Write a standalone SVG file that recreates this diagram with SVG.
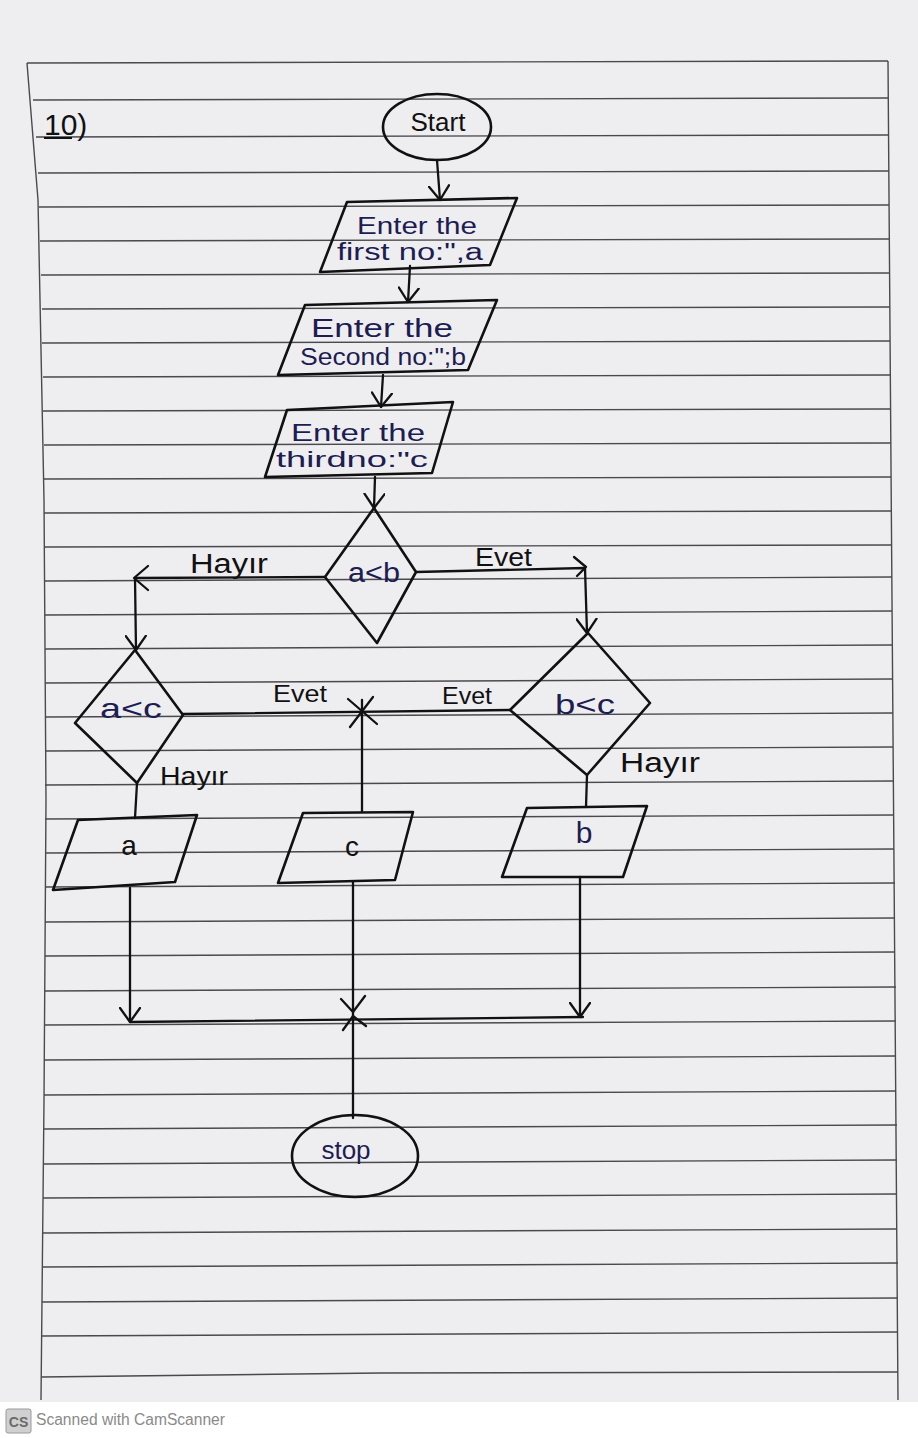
<svg xmlns="http://www.w3.org/2000/svg" width="918" height="1438" viewBox="0 0 918 1438">
<style>
.paper{fill:#eeeef1}
.rule{stroke:#4a4a4e;stroke-width:1.4;fill:none}
.shape{fill:none;stroke:#111;stroke-width:2.6;stroke-linejoin:round;stroke-linecap:round}
.conn{fill:none;stroke:#111;stroke-width:2.3;stroke-linecap:round;stroke-linejoin:round}
.ink{font-family:"Liberation Sans","DejaVu Sans",sans-serif;fill:#1d1d52}
.lbl{font-family:"Liberation Sans","DejaVu Sans",sans-serif;fill:#111}
</style>
<defs>
<marker id="arr" viewBox="0 0 16 22" refX="15" refY="11" markerWidth="16" markerHeight="22" markerUnits="userSpaceOnUse" orient="auto">
<path d="M1,1 L15,11 L1,21" fill="none" stroke="#111" stroke-width="2.3" stroke-linecap="round" stroke-linejoin="round"/>
</marker>
</defs>

<!-- paper -->
<rect class="paper" x="0" y="0" width="918" height="1402"/>
<rect x="0" y="1402" width="918" height="36" fill="#ffffff"/>
<g id="rules">
<path class="rule" d="M27,63 L888,61"/>
<path class="rule" d="M33,100 L888,98"/>
<path class="rule" d="M36,137 L888,135"/>
<path class="rule" d="M38,173 L889,171"/>
<path class="rule" d="M39,207 L889,205"/>
<path class="rule" d="M40,241 L889,239"/>
<path class="rule" d="M41,275 L889,273"/>
<path class="rule" d="M42,309 L890,307"/>
<path class="rule" d="M42,343 L890,341"/>
<path class="rule" d="M43,377 L890,375"/>
<path class="rule" d="M43,411 L890,409"/>
<path class="rule" d="M44,445 L891,443"/>
<path class="rule" d="M44,479 L891,477"/>
<path class="rule" d="M44,513 L891,511"/>
<path class="rule" d="M45,547 L891,545"/>
<path class="rule" d="M45,581 L892,577"/>
<path class="rule" d="M45,615 L892,611"/>
<path class="rule" d="M45,649 L892,645"/>
<path class="rule" d="M45,683 L893,679"/>
<path class="rule" d="M45,717 L893,713"/>
<path class="rule" d="M45,751 L893,747"/>
<path class="rule" d="M45,785 L894,781"/>
<path class="rule" d="M45,819 L894,815"/>
<path class="rule" d="M45,853 L894,849"/>
<path class="rule" d="M45,887 L895,883"/>
<path class="rule" d="M45,922 L895,918"/>
<path class="rule" d="M45,956 L895,952"/>
<path class="rule" d="M45,991 L896,987"/>
<path class="rule" d="M44,1025 L896,1021"/>
<path class="rule" d="M44,1060 L896,1056"/>
<path class="rule" d="M44,1095 L896,1091"/>
<path class="rule" d="M44,1129 L897,1125"/>
<path class="rule" d="M43,1164 L897,1160"/>
<path class="rule" d="M43,1198 L897,1194"/>
<path class="rule" d="M43,1233 L897,1229"/>
<path class="rule" d="M42,1267 L898,1263"/>
<path class="rule" d="M42,1302 L898,1298"/>
<path class="rule" d="M42,1336 L898,1332"/>
<path class="rule" d="M41,1377 L380,1373 L898,1372"/>
<path class="rule" d="M27,63 L38,200 L44,500 L46,800 L44,1100 L41,1400"/>
<path class="rule" d="M888,61 L892,600 L898,1400"/>
</g>

<text class="lbl" x="44" y="135" font-size="30">10)</text>
<path d="M44,138 L72,138" stroke="#111" stroke-width="2" fill="none"/>

<g id="connectors">
<path class="conn" d="M437,160 L440,200" marker-end="url(#arr)"/>
<path class="conn" d="M410,266 L408,302" marker-end="url(#arr)"/>
<path class="conn" d="M383,375 L381,407" marker-end="url(#arr)"/>
<path class="conn" d="M375,477 L374,508" marker-end="url(#arr)"/>
<path class="conn" d="M325,577 L135,578 L136,650" marker-end="url(#arr)"/>
<path class="conn" d="M148,566 L134,578 L148,590"/>
<path class="conn" d="M416,572 L585,568 L587,633" marker-end="url(#arr)"/>
<path class="conn" d="M574,557 L586,567 L577,576"/>
<path class="conn" d="M182,714 L510,710"/>
<path class="conn" d="M362,812 L362,700"/>
<path class="conn" d="M348,699 L377,724 M373,697 L350,727"/>
<path class="conn" d="M137,783 L135,818"/>
<path class="conn" d="M587,775 L586,807"/>
<path class="conn" d="M130,888 L130,1022" marker-end="url(#arr)"/>
<path class="conn" d="M580,877 L580,1017" marker-end="url(#arr)"/>
<path class="conn" d="M130,1022 L583,1017"/>
<path class="conn" d="M353,882 L353,1118"/>
<path class="conn" d="M341,999 L353,1012 L365,996 M343,1030 L353,1016 L366,1026"/>
</g>

<g id="start">
<ellipse class="shape" cx="437" cy="127" rx="54" ry="33"/>
<text class="lbl" x="438" y="131" font-size="26" text-anchor="middle">Start</text>
</g>

<g id="input-a">
<path class="shape" d="M347,202 L517,198 L490,265 L320,272 Z"/>
<text class="ink" x="357" y="234" font-size="24" textLength="120" lengthAdjust="spacingAndGlyphs">Enter the</text>
<text class="ink" x="337" y="260" font-size="23" textLength="146" lengthAdjust="spacingAndGlyphs">first no:",a</text>
</g>

<g id="input-b">
<path class="shape" d="M305,305 L497,300 L468,370 L278,375 Z"/>
<text class="ink" x="311" y="337" font-size="25" textLength="142" lengthAdjust="spacingAndGlyphs">Enter the</text>
<text class="ink" x="300" y="365" font-size="23" textLength="166" lengthAdjust="spacingAndGlyphs">Second no:";b</text>
</g>

<g id="input-c">
<path class="shape" d="M287,410 L453,402 L432,473 L265,477 Z"/>
<text class="ink" x="291" y="441" font-size="23" textLength="134" lengthAdjust="spacingAndGlyphs">Enter the</text>
<text class="ink" x="276" y="467" font-size="22" textLength="152" lengthAdjust="spacingAndGlyphs">thirdno:"c</text>
</g>

<g id="dec-ab">
<path class="shape" d="M374,508 L416,572 L377,643 L325,577 Z"/>
<text class="ink" x="348" y="582" font-size="27" textLength="52" lengthAdjust="spacingAndGlyphs">a&lt;b</text>
</g>
<text class="lbl" x="190" y="573" font-size="27" textLength="78" lengthAdjust="spacingAndGlyphs">Hayır</text>
<text class="lbl" x="475" y="566" font-size="25" textLength="57" lengthAdjust="spacingAndGlyphs">Evet</text>

<g id="dec-ac">
<path class="shape" d="M135,650 L183,715 L137,783 L75,723 Z"/>
<text class="ink" x="100" y="718" font-size="28" textLength="62" lengthAdjust="spacingAndGlyphs">a&lt;c</text>
</g>
<text class="lbl" x="273" y="702" font-size="24" textLength="54" lengthAdjust="spacingAndGlyphs">Evet</text>
<text class="lbl" x="160" y="785" font-size="25" textLength="68" lengthAdjust="spacingAndGlyphs">Hayır</text>

<g id="dec-bc">
<path class="shape" d="M588,633 L650,703 L587,775 L510,710 Z"/>
<text class="ink" x="555" y="714" font-size="28" textLength="60" lengthAdjust="spacingAndGlyphs">b&lt;c</text>
</g>
<text class="lbl" x="442" y="704" font-size="24" textLength="50" lengthAdjust="spacingAndGlyphs">Evet</text>
<text class="lbl" x="620" y="772" font-size="27" textLength="80" lengthAdjust="spacingAndGlyphs">Hayır</text>

<g id="out-a">
<path class="shape" d="M78,820 L197,815 L175,882 L53,890 Z"/>
<text class="lbl" x="129" y="855" font-size="28" text-anchor="middle">a</text>
</g>

<g id="out-c">
<path class="shape" d="M303,813 L413,812 L395,880 L278,883 Z"/>
<text class="lbl" x="352" y="856" font-size="28" text-anchor="middle">c</text>
</g>

<g id="out-b">
<path class="shape" d="M527,808 L647,806 L623,877 L502,877 Z"/>
<text class="ink" x="584" y="843" font-size="30" text-anchor="middle">b</text>
</g>

<g id="stop">
<ellipse class="shape" cx="355" cy="1156" rx="63" ry="41"/>
<text class="ink" x="346" y="1159" font-size="26" text-anchor="middle">stop</text>
</g>

<g id="watermark">
<rect x="6" y="1409" width="25" height="24" rx="2" fill="#d0d0d0" stroke="#9a9a9a" stroke-width="1"/>
<text x="18.5" y="1427" font-size="14" font-weight="bold" text-anchor="middle" font-family="Liberation Sans,sans-serif" fill="#6a6a6a">CS</text>
<text x="36" y="1425" font-size="16" font-family="Liberation Sans,sans-serif" fill="#8a8a8a" textLength="189" lengthAdjust="spacingAndGlyphs">Scanned with CamScanner</text>
</g>
</svg>
